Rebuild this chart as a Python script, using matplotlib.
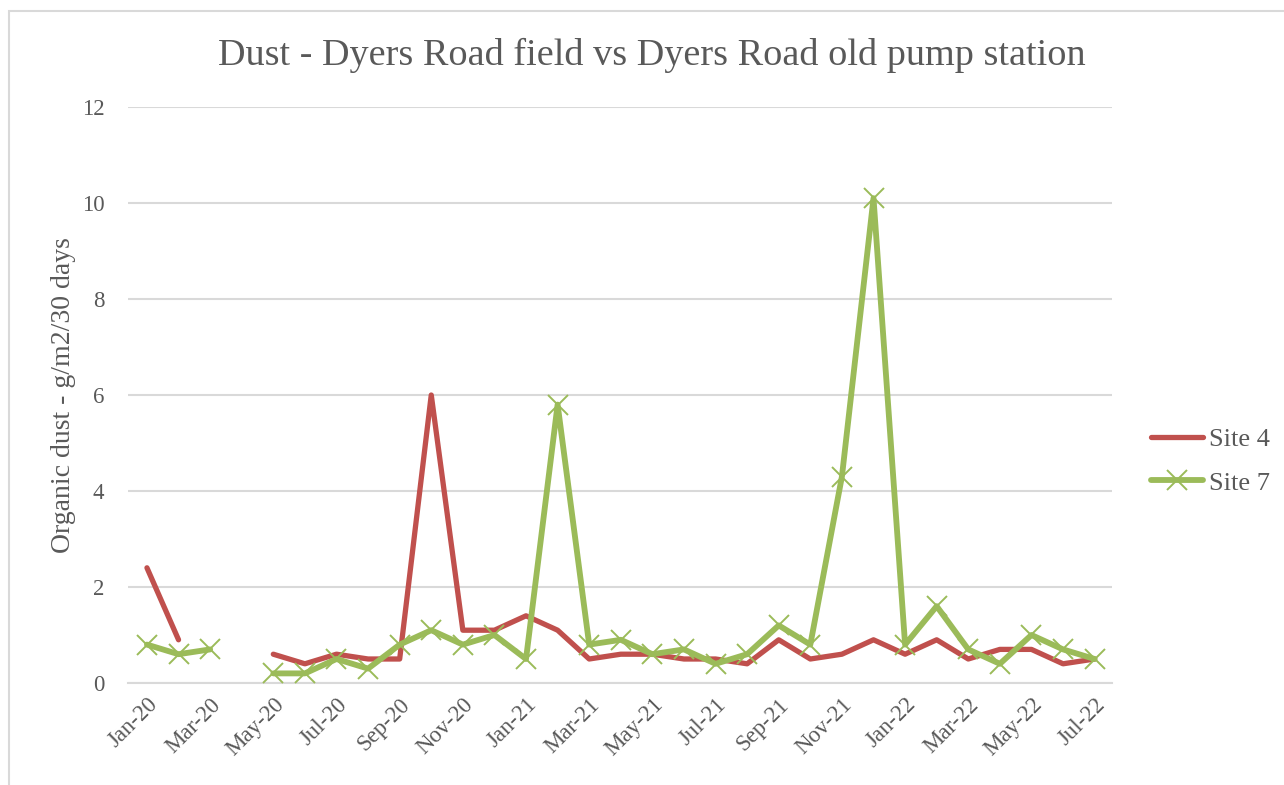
import numpy as np
import matplotlib.pyplot as plt
from matplotlib.patches import Rectangle

plt.rcParams['font.family'] = ['Liberation Serif', 'DejaVu Serif']

months = ["Jan-20", "Feb-20", "Mar-20", "Apr-20", "May-20", "Jun-20", "Jul-20", "Aug-20",
          "Sep-20", "Oct-20", "Nov-20", "Dec-20", "Jan-21", "Feb-21", "Mar-21", "Apr-21",
          "May-21", "Jun-21", "Jul-21", "Aug-21", "Sep-21", "Oct-21", "Nov-21", "Dec-21",
          "Jan-22", "Feb-22", "Mar-22", "Apr-22", "May-22", "Jun-22", "Jul-22"]

nan = np.nan
site4 = [2.4, 0.9, nan, nan, 0.6, 0.4, 0.6, 0.5, 0.5, 6.0, 1.1, 1.1, 1.4, 1.1, 0.5, 0.6,
         0.6, 0.5, 0.5, 0.4, 0.9, 0.5, 0.6, 0.9, 0.6, 0.9, 0.5, 0.7, 0.7, 0.4, 0.5]
site7 = [0.8, 0.6, 0.7, nan, 0.2, 0.2, 0.5, 0.3, 0.8, 1.1, 0.8, 1.0, 0.5, 5.8, 0.8, 0.9,
         0.6, 0.7, 0.4, 0.6, 1.2, 0.8, 4.3, 10.1, 0.8, 1.6, 0.7, 0.4, 1.0, 0.7, 0.5]

RED = "#C0504D"
GREEN = "#9BBB59"
TXT = "#595959"

fig = plt.figure(figsize=(12.84, 7.85), dpi=100)
fig.patches.append(Rectangle((9 / 1284, -0.05), 1.1, 1 - 11 / 785 + 0.05,
                             transform=fig.transFigure, fill=False,
                             edgecolor="#D9D9D9", linewidth=1.5))

ax = fig.add_axes([128 / 1284, 1 - 683 / 785, (1112 - 128) / 1284, (683 - 107) / 785])
x = np.arange(len(months))

ax.plot(x, site4, color=RED, linewidth=3.8, solid_capstyle="round",
        solid_joinstyle="round", label="Site 4", zorder=3)
ax.plot(x, site7, color=GREEN, linewidth=4.2, marker="x", markersize=15,
        markeredgewidth=1.4, solid_capstyle="round", solid_joinstyle="round",
        label="Site 7", zorder=4)

ax.set_ylim(0, 12)
ax.set_yticks(range(0, 13, 2))
ax.set_xlim(-0.6, 30.55)
ax.set_xticks(x[::2])
ax.set_xticklabels(months[::2], rotation=45, ha="right", rotation_mode="anchor")
ax.grid(axis="y", color="#D9D9D9", linewidth=1.5)
ax.set_axisbelow(True)
for s in ["top", "right", "left"]:
    ax.spines[s].set_visible(False)
ax.spines["bottom"].set_color("#D9D9D9")
ax.spines["bottom"].set_linewidth(1.5)
ax.tick_params(axis="both", length=0, labelsize=16.5, labelcolor=TXT, colors=TXT)
ax.tick_params(axis="y", pad=17)
ax.tick_params(axis="x", pad=8)

ax.set_ylabel("Organic dust - g/m2/30 days", fontsize=20, color=TXT, labelpad=4)
fig.text(652 / 1284, 1 - 55 / 785, "Dust - Dyers Road field vs Dyers Road old pump station",
         fontsize=27.5, color=TXT, ha="center", va="center")

ax.legend(loc="center left", bbox_to_anchor=(1.015, 0.385), frameon=False,
          fontsize=19, labelcolor=TXT, handlelength=2.0, handletextpad=0.2,
          labelspacing=0.75)

fig.savefig("out.png", dpi=100)
